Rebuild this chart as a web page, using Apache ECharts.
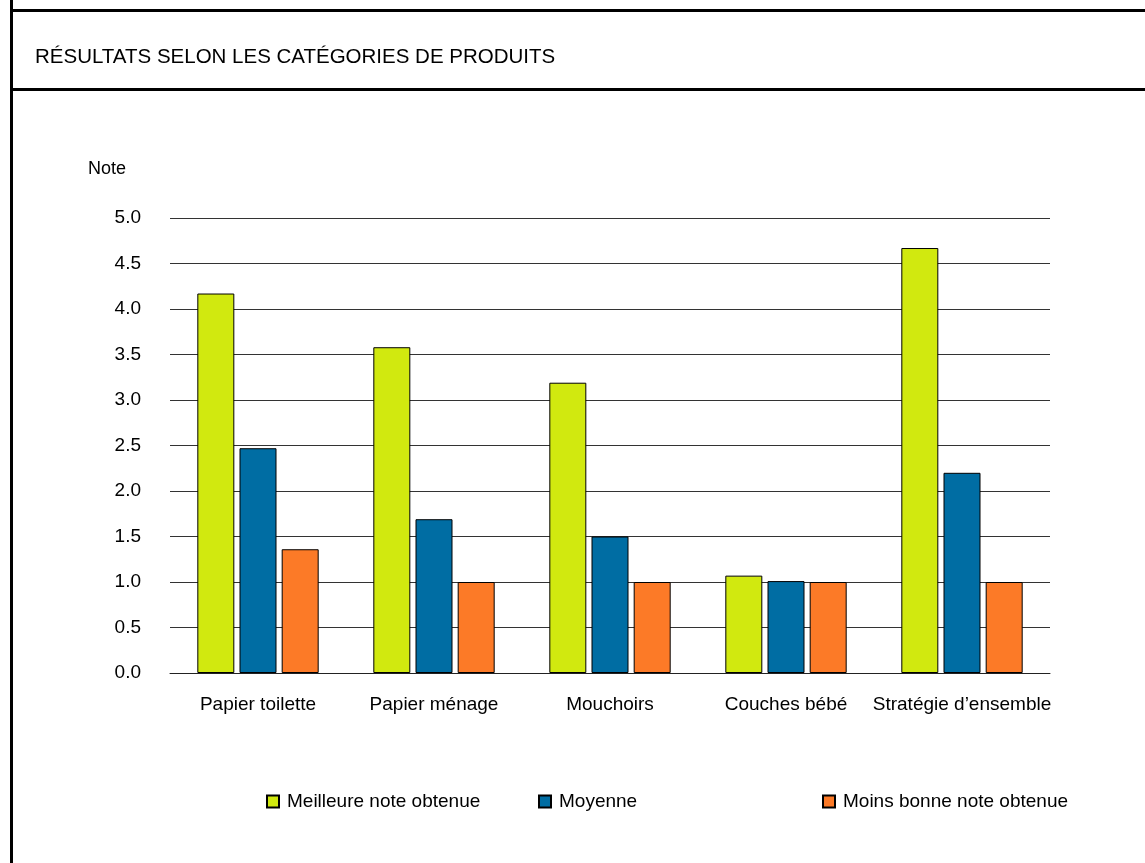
<!DOCTYPE html>
<html>
<head>
<meta charset="utf-8">
<script src="https://cdn.jsdelivr.net/npm/echarts@6/dist/echarts.min.js"></script>
<style>
html,body{margin:0;padding:0;background:#fff;}
#chart{width:1145px;height:863px;}
</style>
</head>
<body>
<div id="chart"></div>
<script>
const title = 'RÉSULTATS SELON LES CATÉGORIES DE PRODUITS';
const yAxisName = 'Note';
const categories = ['Papier toilette', 'Papier ménage', 'Mouchoirs', 'Couches bébé', 'Stratégie d’ensemble'];
const seriesNames = ['Meilleure note obtenue', 'Moyenne', 'Moins bonne note obtenue'];
const meilleure = [4.17, 3.58, 3.19, 1.07, 4.67];
const moyenne = [2.47, 1.69, 1.50, 1.01, 2.20];
const moinsBonne = [1.36, 1.00, 1.00, 1.00, 1.00];
const yMin = 0, yMax = 5, yStep = 0.5;

const FONT = '"Liberation Sans", Arial, sans-serif';
const colors = ['#D1E90F', '#006DA3', '#FC7A27'];
const values = [meilleure, moyenne, moinsBonne];
const legendLefts = [266, 538, 822];

const chart = echarts.init(document.getElementById('chart'), null, {renderer: 'canvas'});

const option = {
  animation: false,
  backgroundColor: '#fff',
  textStyle: {fontFamily: FONT, color: '#000'},
  grid: {left: 170, right: 95, top: 218, bottom: 190, containLabel: false},
  xAxis: {
    type: 'category',
    data: categories,
    axisLine: {show: true, lineStyle: {color: '#222', width: 1}},
    axisTick: {show: false},
    axisLabel: {margin: 22, fontSize: 19, color: '#000', fontFamily: FONT, interval: 0}
  },
  yAxis: {
    type: 'value',
    min: yMin, max: yMax, interval: yStep,
    axisLine: {show: false},
    axisTick: {show: false},
    splitLine: {show: true, lineStyle: {color: '#333', width: 1}},
    axisLabel: {margin: 29, fontSize: 19, color: '#000', fontFamily: FONT,
      formatter: v => v.toFixed(1)}
  },
  legend: seriesNames.map((n, i) => ({
    data: [n],
    left: legendLefts[i],
    top: 792,
    padding: 0,
    itemWidth: 12,
    itemHeight: 12,
    icon: 'rect',
    selectedMode: false,
    textStyle: {fontSize: 19, color: '#000', fontFamily: FONT, padding: [0, 0, 0, 3]}
  })),
  series: seriesNames.map((n, i) => ({
    name: n,
    type: 'bar',
    data: values[i],
    barWidth: 37,
    barGap: '14%',
    itemStyle: {color: colors[i], borderColor: '#000', borderWidth: 1}
  })),
  graphic: [
    {type: 'line', shape: {x1: 11.5, y1: 0, x2: 11.5, y2: 863}, style: {stroke: '#000', lineWidth: 3}},
    {type: 'line', shape: {x1: 10, y1: 10.5, x2: 1145, y2: 10.5}, style: {stroke: '#000', lineWidth: 3}},
    {type: 'line', shape: {x1: 10, y1: 89.5, x2: 1145, y2: 89.5}, style: {stroke: '#000', lineWidth: 3}},
    {type: 'text', left: 35, top: 47, style: {text: title, fontSize: 20.5, fontFamily: FONT, fill: '#000'}},
    {type: 'text', left: 88, top: 160, style: {text: yAxisName, fontSize: 18, fontFamily: FONT, fill: '#000'}}
  ]
};
chart.setOption(option);
</script>
</body>
</html>
